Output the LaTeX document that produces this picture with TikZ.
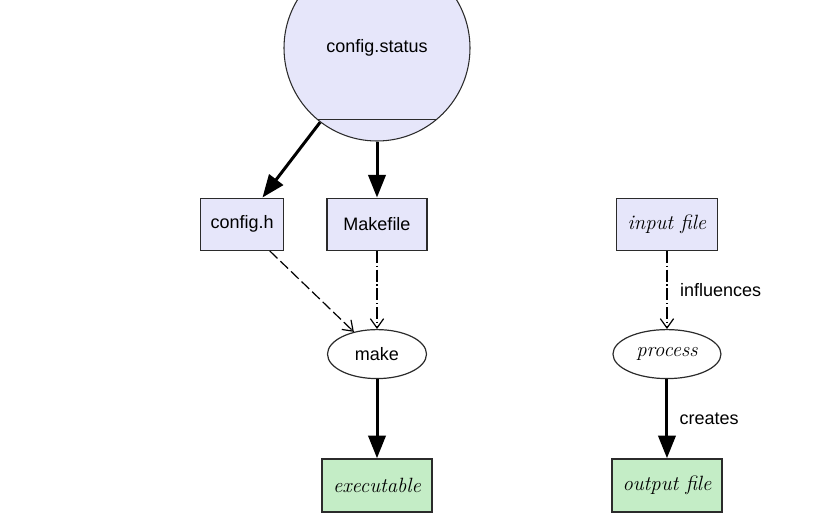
\documentclass[tikz,border=0pt]{standalone}
\usepackage{fontspec}
\newfontfamily\labelfont{Liberation Sans}
\usetikzlibrary{positioning}
\usetikzlibrary{arrows.meta}
\usetikzlibrary{shapes.geometric}
\definecolor{cs-lavender}{HTML}{E6E6FA}
\definecolor{cs-green}{HTML}{C4EDC6}
\definecolor{cs-line}{HTML}{2B2B2B}

\begin{document}
\begin{tikzpicture}[
    font=\labelfont\fontsize{13.5pt}{15pt}\selectfont,
    node distance=42pt and 31.5pt,
    >=latex
  ]

  % Styles for files, tools and edges
  \tikzset{
    status/.style={draw=cs-line, circle, fill=cs-lavender, minimum size=139.5pt, inner sep=0pt, line width=0.8pt},
    srcfile/.style={draw=cs-line, fill=cs-lavender, minimum height=39pt, line width=1.1pt},
    target/.style={draw=cs-line, fill=cs-green, minimum width=82.5pt, minimum height=39.75pt, line width=1.1pt,
      font=\rmfamily\itshape\fontsize{15.5pt}{17pt}\selectfont},
    tool/.style={draw=cs-line, ellipse, minimum height=36.75pt, line width=0.9pt},
    build/.style={line width=2.25pt, -{Triangle[length=17pt,width=13pt]}},
    dep/.style={line width=0.9pt, -{Straight Barb[length=7pt,width=10pt]}},
    longdash/.style={dash pattern=on 8pt off 3pt},
    dashdot/.style={dash pattern=on 9pt off 2pt on 1pt off 2pt}
  }

  \useasboundingbox (0,0) rectangle (616.5pt,-390.75pt);

  % Generated by configure
  \node (cs) [status] at (282.75pt,-36pt) {config.status};
  \draw[line width=0.8pt, cs-line] (cs.-130) -- (cs.-50);

  % Files written by config.status
  \node (mkfile) [srcfile, minimum width=75pt, below=of cs] {Makefile};
  \node (cfgh) [srcfile, minimum width=62.25pt, left=of mkfile] {config.h};

  % Build step
  \node (make) [tool, minimum width=74.25pt, below=58.5pt of mkfile] {make};
  \node (exe) [target, below=59.25pt of make] {executable};

  % Legend on the right
  \node (infile) [srcfile, minimum width=75.75pt, right=141pt of mkfile,
    font=\rmfamily\itshape\fontsize{15.5pt}{17pt}\selectfont] {input file};
  \node (proc) [tool, minimum width=81pt, below=58.5pt of infile,
    font=\rmfamily\itshape\fontsize{15.5pt}{17pt}\selectfont] {process};
  \node (outfile) [target, below=59.25pt of proc] {output file};

  % Edges
  \draw[build] (cs) -- (cfgh);
  \draw[build] (cs) -- (mkfile);
  \draw[dep, longdash] (cfgh) -- (make);
  \draw[dep, dashdot] (mkfile) -- (make);
  \draw[build] (make) -- (exe);

  \draw[dep, dashdot] (infile) -- node[right, midway, xshift=6pt] {influences} (proc);
  \draw[build] (proc) -- node[right, midway, xshift=5pt] {creates} (outfile);

\end{tikzpicture}
\end{document}
